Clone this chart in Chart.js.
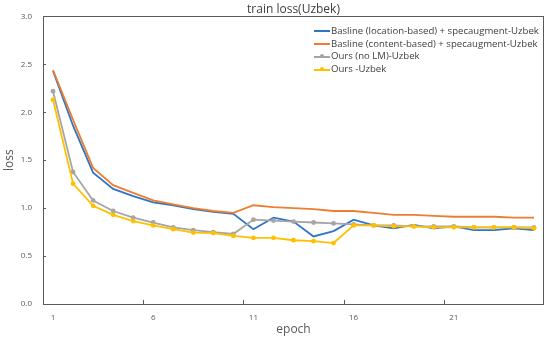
<!DOCTYPE html>
<html>
<head>
<meta charset="utf-8">
<script src="https://cdn.jsdelivr.net/npm/chart.js@4.4.1/dist/chart.umd.min.js"></script>
<style>
  body { margin: 0; background: #fff; }
  .chart-container { position: relative; width: 550px; height: 337px; }
  .legend { position: absolute; left: 314px; top: 25px; font: 9.6px "Open Sans", "DejaVu Sans", sans-serif; color: #404040; }
  .legend div { height: 12.7px; line-height: 12.7px; white-space: nowrap; }
  .legend span.sw { display: inline-block; position: relative; width: 16px; height: 2px; vertical-align: middle; margin-right: 1px; }
  .legend span.sw i { position: absolute; left: 6px; top: -1.5px; width: 4px; height: 4px; border-radius: 50%; }
</style>
</head>
<body>
<div class="chart-container">
  <canvas id="lossChart" width="550" height="337"></canvas>
  <div class="legend" id="legend"></div>
</div>
<script>
const epochs = ['1','2','3','4','5','6','7','8','9','10','11','12','13','14','15','16','17','18','19','20','21','22','23','24','25']
const xTickLabels = ['1', '6', '11', '16', '21']
const seriesNames = [
  'Basline (location-based) + specaugment-Uzbek',
  'Basline (content-based) + specaugment-Uzbek',
  'Ours (no LM)-Uzbek',
  'Ours -Uzbek'
]
const locationBased = [2.43, 1.86, 1.37, 1.20, 1.125, 1.06, 1.03, 0.99, 0.96, 0.94, 0.78, 0.90, 0.86, 0.705, 0.76, 0.88, 0.82, 0.79, 0.825, 0.79, 0.81, 0.77, 0.77, 0.79, 0.77]
const contentBased = [2.44, 1.92, 1.42, 1.24, 1.16, 1.08, 1.04, 1.00, 0.97, 0.95, 1.03, 1.01, 1.00, 0.99, 0.97, 0.97, 0.95, 0.93, 0.93, 0.92, 0.91, 0.91, 0.91, 0.90, 0.90]
const oursNoLM = [2.22, 1.377, 1.08, 0.97, 0.90, 0.85, 0.80, 0.77, 0.75, 0.73, 0.88, 0.87, 0.86, 0.85, 0.84, 0.83, 0.82, 0.82, 0.81, 0.81, 0.81, 0.80, 0.80, 0.80, 0.80]
const ours = [2.13, 1.255, 1.024, 0.93, 0.865, 0.82, 0.78, 0.745, 0.74, 0.71, 0.69, 0.69, 0.665, 0.655, 0.636, 0.82, 0.82, 0.81, 0.81, 0.80, 0.80, 0.80, 0.80, 0.80, 0.79]

const colors = ['#2E75C8', '#ED7D31', '#A5A5A5', '#FFC000']
const withMarker = [false, false, true, true]
const allSeries = [locationBased, contentBased, oursNoLM, ours]

// plot frame + small inward tick marks (excel style)
const plotFrame = {
  id: 'plotFrame',
  afterDraw(chart) {
    const ctx = chart.ctx
    const a = chart.chartArea
    const xs = chart.scales.x, ys = chart.scales.y
    const l = Math.round(a.left), r = Math.round(a.right), t = Math.round(a.top), b = Math.round(a.bottom)
    ctx.save()
    ctx.fillStyle = '#595959'
    ctx.fillRect(l, t, r - l, 1)
    ctx.fillRect(l, b, r - l, 1)
    ctx.fillRect(l, t, 1, b - t + 1)
    ctx.fillRect(r - 1, t, 1, b - t + 1)
    ;[5, 10, 15, 20].forEach(i => {
      const x = Math.round((xs.getPixelForValue(i - 1) + xs.getPixelForValue(i)) / 2)
      ctx.fillRect(x, b - 4, 1, 4)
    })
    ys.ticks.forEach(tk => {
      const y = Math.round(ys.getPixelForValue(tk.value))
      ctx.fillRect(l, y, 3, 1)
    })
    ctx.restore()
  }
}

const datasets = allSeries.map((d, i) => ({
  label: seriesNames[i],
  data: d,
  borderColor: colors[i],
  backgroundColor: colors[i],
  borderWidth: 1.8,
  pointRadius: withMarker[i] ? 2.4 : 0,
  pointBorderWidth: 0,
  pointHoverRadius: 0,
  tension: 0
}))

const chart = new Chart(document.getElementById('lossChart'), {
  type: 'line',
  data: { labels: epochs, datasets: datasets.slice().reverse() },
  options: {
    responsive: false,
    animation: false,
    layout: { padding: { top: 0, right: 6, left: 0, bottom: 0 } },
    plugins: {
      legend: { display: false },
      tooltip: { enabled: false },
      title: {
        display: true,
        fullSize: false,
        text: 'train loss(Uzbek)',
        color: '#404040',
        font: { family: 'Open Sans', size: 12, weight: 'normal' },
        padding: { top: 2, bottom: 0 }
      }
    },
    scales: {
      x: {
        offset: true,
        grid: { display: false },
        border: { display: false },
        ticks: {
          autoSkip: false,
          maxRotation: 0,
          color: '#595959',
          font: { family: 'Open Sans', size: 8 },
          padding: 1,
          callback: (v, i) => xTickLabels.includes(epochs[i]) ? epochs[i] : ''
        },
        title: {
          display: true, text: 'epoch', color: '#595959',
          font: { family: 'Open Sans', size: 12 }, padding: { top: 0, bottom: 0 }
        },
        afterFit: s => { s.height = 33 }
      },
      y: {
        min: 0, max: 3,
        grid: { display: false },
        border: { display: false },
        ticks: {
          stepSize: 0.5,
          color: '#595959',
          font: { family: 'Open Sans', size: 8 },
          padding: 3,
          callback: v => v.toFixed(1)
        },
        title: {
          display: true, text: 'loss', color: '#595959',
          font: { family: 'Open Sans', size: 12 }, padding: { top: 2, bottom: 2 }
        },
        afterFit: s => { s.width = 43 }
      }
    }
  },
  plugins: [plotFrame]
})

// legend as html text inside the plot area
const legend = document.getElementById('legend')
seriesNames.forEach((name, i) => {
  const row = document.createElement('div')
  row.innerHTML = `<span class="sw" style="background:${colors[i]}">${withMarker[i] ? `<i style="background:${colors[i]}"></i>` : ''}</span>${name}`
  legend.appendChild(row)
})
</script>
</body>
</html>
